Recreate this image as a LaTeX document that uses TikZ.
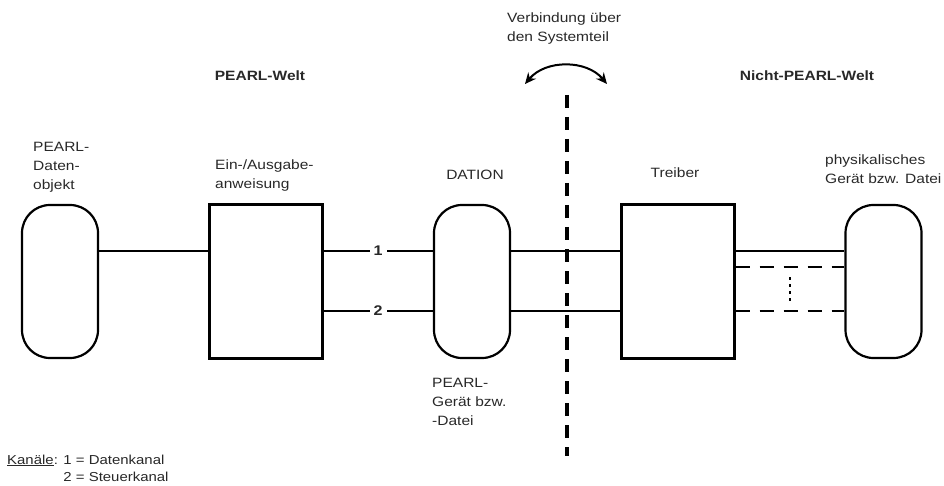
\documentclass[tikz,border=0pt]{standalone}
\usepackage{fontspec}
\setmainfont{Liberation Sans}[FakeStretch=1.15]
\usetikzlibrary{arrows.meta,positioning}
\definecolor{G-txt}{RGB}{40,40,40}
\tikzset{
  obj/.style={draw=black, rounded corners=28pt, line width=2.2pt, inner sep=0pt, minimum width=76pt, minimum height=153pt},
  unit/.style={draw=black, line width=3pt, inner sep=0pt, minimum width=113pt, minimum height=153pt},
  link/.style={line width=2.2pt, draw=black},
  dlink/.style={line width=2.2pt, draw=black, dash pattern=on 14pt off 10pt},
  label/.style={text=G-txt, align=left, inner sep=0pt},
  chan/.style={fill=white, text=G-txt, inner sep=4pt, font=\fontsize{14}{15}\selectfont\bfseries}
}

\begin{document}
\begin{tikzpicture}[x=1pt,y=-1pt, font=\fontsize{13.5}{19}\selectfont]
\useasboundingbox (0,0) rectangle (944,486);
\node[obj] (datobj) at (60,281.5) {};
\node[unit] (ioinstr) at (265.5,281.5) {};
\node[obj] (dation) at (472,281.5) {};
\node[unit] (treiber) at (677.5,281.5) {};
\node[obj] (geraet) at (883.5,281.5) {};

\coordinate (k1) at (0,251);
\coordinate (k2) at (0,311);
\coordinate (k3) at (0,267);

% Kanaele
\draw[link] (datobj.east |- k1) -- (ioinstr.west |- k1);
\draw[link] (ioinstr.east |- k1) -- node[chan] {1} (dation.west |- k1);
\draw[link] (ioinstr.east |- k2) -- node[chan] {2} (dation.west |- k2);
\draw[link] (dation.east |- k1) -- (treiber.west |- k1);
\draw[link] (dation.east |- k2) -- (treiber.west |- k2);
\draw[link] (treiber.east |- k1) -- (geraet.west |- k1);
\draw[dlink] (treiber.east |- k3) -- (geraet.west |- k3);
\draw[dlink] (treiber.east |- k2) -- (geraet.west |- k2);
\coordinate (dot1) at (790,277);
\coordinate (dot2) at (790,302);
\draw[line width=2.6pt, dash pattern=on 3pt off 4pt] (dot1) -- (dot2);

% Systemgrenze
\coordinate (sys1) at (567,95);
\coordinate (sys2) at (567,456);
\draw[line width=3.2pt, dash pattern=on 13pt off 9pt] (sys1) -- (sys2);
\coordinate (arcL) at (525,84);
\coordinate (arcR) at (607,84);
\draw[{Stealth[length=11pt,width=10pt]}-{Stealth[length=11pt,width=10pt]}, line width=2pt] (arcL) to[bend left=50] (arcR);

% Texte
\node[label, anchor=west] (verb) at (507,29) {Verbindung über\\den Systemteil};
\node[label, font=\fontsize{13.5}{19}\selectfont\bfseries] (pwelt) at (260,76) {PEARL-Welt};
\node[label, font=\fontsize{13.5}{19}\selectfont\bfseries] (npwelt) at (807,76) {Nicht-PEARL-Welt};
\node[label, anchor=west] (tdatobj) at (33,167) {PEARL-\\Daten-\\objekt};
\node[label, anchor=west] (tioinstr) at (215,176) {Ein-/Ausgabe-\\anweisung};
\node[label] (tdation) at (475,175) {DATION};
\node[label] (ttreiber) at (675,173) {Treiber};
\node[label, anchor=west] (tgeraet) at (825,169) {physikalisches\\Gerät bzw. Datei};
\node[label, anchor=west] (tpgeraet) at (432,402) {PEARL-\\Gerät bzw.\\-Datei};
\node[label, anchor=west, font=\fontsize{13}{17}\selectfont] (legend) at (7,468) {\underline{Kanäle}: 1 = Datenkanal\\\phantom{Kanäle: }2 = Steuerkanal};
\end{tikzpicture}
\end{document}
